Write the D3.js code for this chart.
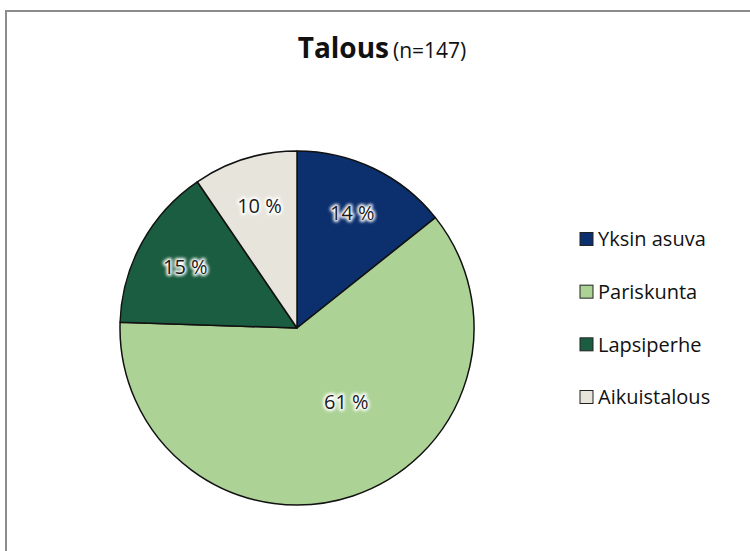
<!DOCTYPE html>
<html>
<head>
<meta charset="utf-8">
<script src="https://cdn.jsdelivr.net/npm/d3@7"></script>
<style>
  html, body { margin: 0; padding: 0; background: #fff; }
  svg { display: block; }
</style>
</head>
<body>
<svg id="chart" width="750" height="551"></svg>
<script>
'use strict';

// Chart data (n = 147)
var categories = ['Yksin asuva', 'Pariskunta', 'Lapsiperhe', 'Aikuistalous'],
    counts = [21, 90, 22, 14],
    percentLabels = ['14 %', '61 %', '15 %', '10 %'],
    colors = ['#0c2f6e', '#acd296', '#1b5d40', '#e7e4dc'];

var titleMain = 'Talous',
    titleSub = '(n=147)';

var FONT = '"Open Sans", "Noto Sans", sans-serif';

var svg = d3.select('#chart');

// outer chart border (runs off the right and bottom)
svg.append('rect')
    .attr('x', 6)
    .attr('y', 11)
    .attr('width', 800)
    .attr('height', 600)
    .attr('fill', '#fff')
    .attr('stroke', '#8c8c8c')
    .attr('stroke-width', 2);

// title
var title = svg.append('text')
    .attr('x', 382)
    .attr('y', 58)
    .attr('text-anchor', 'middle')
    .attr('font-family', FONT)
    .attr('fill', '#111');
title.append('tspan')
    .attr('font-size', 28)
    .attr('font-weight', 'bold')
    .text(titleMain);
title.append('tspan')
    .attr('font-size', 21)
    .attr('dx', 4)
    .text(titleSub);

// white glow for slice labels
var defs = svg.append('defs');
var glow = defs.append('filter')
    .attr('id', 'glow')
    .attr('x', '-20%').attr('y', '-40%')
    .attr('width', '140%').attr('height', '180%');
glow.append('feGaussianBlur')
    .attr('stdDeviation', 1.8);

// pie
var cx = 297,
    cy = 328,
    R = 177;

var pie = d3.pie()
    .sort(null)
    .value(function (d) { return d; });

var arcs = pie(counts);

var arc = d3.arc()
    .innerRadius(0)
    .outerRadius(R);

var labelArc = d3.arc()
    .innerRadius(R * 0.72)
    .outerRadius(R * 0.72);

var g = svg.append('g')
    .attr('transform', 'translate(' + cx + ',' + cy + ')');

g.selectAll('path.slice')
    .data(arcs)
    .enter()
    .append('path')
    .attr('class', 'slice')
    .attr('d', arc)
    .attr('fill', function (d, i) { return colors[i]; })
    .attr('stroke', '#111')
    .attr('stroke-width', 1.5)
    .attr('stroke-linejoin', 'round');

// Excel puts the big slice's label nearer the centre
function labelPos(d) {
    var share = (d.endAngle - d.startAngle) / (2 * Math.PI);
    if (share > 0.5) {
        var a = (d.startAngle + d.endAngle) / 2 - 0.27,
            r = R * 0.5;
        return [Math.sin(a) * r, -Math.cos(a) * r];
    }
    return labelArc.centroid(d);
}

var labels = g.selectAll('g.label')
    .data(arcs)
    .enter()
    .append('g')
    .attr('class', 'label')
    .attr('transform', function (d) {
        return 'translate(' + labelPos(d) + ')';
    });

labels.append('text')
    .attr('text-anchor', 'middle')
    .attr('dy', '0.35em')
    .attr('font-family', FONT)
    .attr('font-size', 20)
    .attr('fill', '#fff')
    .attr('stroke', '#fff')
    .attr('stroke-width', 4)
    .attr('stroke-linejoin', 'round')
    .attr('filter', 'url(#glow)')
    .text(function (d, i) { return percentLabels[i]; });

labels.append('text')
    .attr('text-anchor', 'middle')
    .attr('dy', '0.35em')
    .attr('font-family', FONT)
    .attr('font-size', 20)
    .attr('fill', '#1a1a1a')
    .text(function (d, i) { return percentLabels[i]; });

// legend
var legendY = d3.scalePoint()
    .domain(categories)
    .range([239, 397]);

var legend = svg.append('g')
    .selectAll('g')
    .data(categories)
    .enter()
    .append('g')
    .attr('transform', function (d) {
        return 'translate(580,' + legendY(d) + ')';
    });

legend.append('rect')
    .attr('x', 0)
    .attr('y', -6.5)
    .attr('width', 13)
    .attr('height', 13)
    .attr('fill', function (d, i) { return colors[i]; })
    .attr('stroke', '#222')
    .attr('stroke-width', 1);

legend.append('text')
    .attr('x', 18)
    .attr('dy', '0.36em')
    .attr('font-family', FONT)
    .attr('font-size', 20)
    .attr('fill', '#111')
    .text(function (d) { return d; });
</script>
</body>
</html>
